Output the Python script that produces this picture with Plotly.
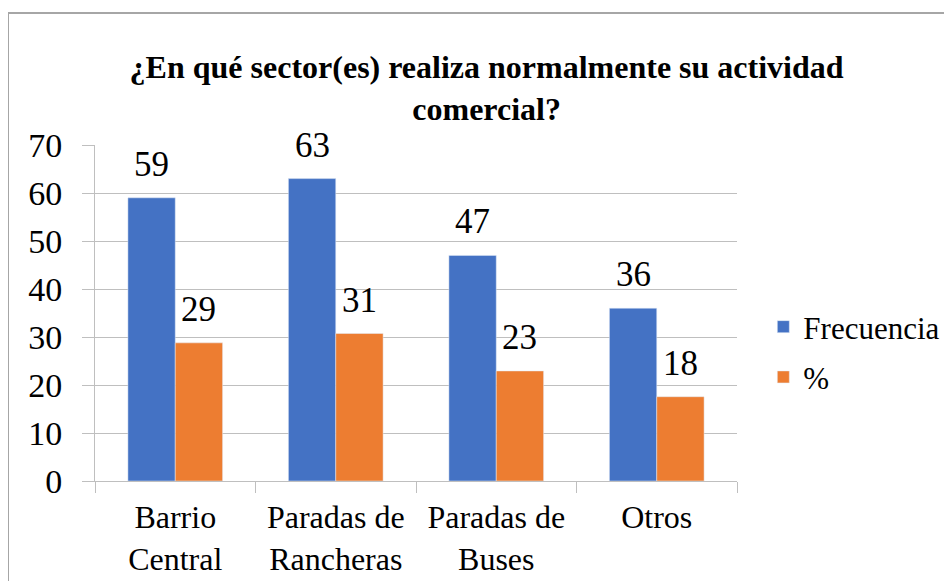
import plotly.graph_objects as go

# data
sectores = ["Barrio<br>Central", "Paradas de<br>Rancheras", "Paradas de<br>Buses", "Otros"]
frecuencia = [59, 63, 47, 36]
porcentaje = [28.78, 30.73, 22.93, 17.56]
etiquetas_frec = ["59", "63", "47", "36"]
etiquetas_pct = ["29", "31", "23", "18"]

azul = "#4472C4"
naranja = "#ED7D31"
gris = "#BFBFBF"
fuente = "Liberation Serif"
bargap = 0.41

fig = go.Figure()

fig.add_trace(go.Bar(x=sectores, y=frecuencia, name="Frecuencia",
                     marker_color=azul, legendgroup="a"))
fig.add_trace(go.Bar(x=sectores, y=porcentaje, name="%",
                     marker_color=naranja, legendgroup="b"))

# data labels above each bar (bar centre = category index -/+ a quarter of the group width)
media = (1 - bargap) / 4
for i, (f, p) in enumerate(zip(frecuencia, porcentaje)):
    for dx, val, lab in [(-media, f, etiquetas_frec[i]), (media, p, etiquetas_pct[i])]:
        fig.add_annotation(x=i + dx, y=val, text=lab, showarrow=False,
                           xanchor="center", yanchor="bottom", yshift=12,
                           font=dict(size=35, family=fuente, color="black"))

fig.update_layout(
    width=944, height=573,
    barmode="group", bargap=bargap, bargroupgap=0,
    plot_bgcolor="white", paper_bgcolor="white",
    font=dict(family=fuente, color="black"),
    margin=dict(l=87, r=215, t=137, b=100, autoexpand=False),
    title=dict(text="<b>¿En qué sector(es) realiza normalmente su actividad<br>comercial?</b>",
               x=0.507, xanchor="center", y=0.878, yanchor="middle",
               yref="container", font=dict(size=32, family=fuente, color="black")),
    legend=dict(x=1.041, xanchor="left", y=0.384, yanchor="middle",
                font=dict(size=31, family=fuente, color="black"), traceorder="grouped",
                tracegroupgap=7, bgcolor="rgba(0,0,0,0)"),
    showlegend=True,
)

fig.update_yaxes(range=[0, 70], dtick=10, showgrid=True, gridcolor=gris, gridwidth=1,
                 ticks="outside", ticklen=12, tickcolor=gris, zeroline=False,
                 showline=True, linecolor=gris, ticklabelstandoff=13, automargin=False,
                 tickfont=dict(size=34, family=fuente, color="black"))

fig.update_xaxes(showline=True, linecolor=gris, ticks="outside", ticklen=11,
                 tickcolor=gris, tickson="boundaries", ticklabelstandoff=8, automargin=False,
                 tickfont=dict(size=32, family=fuente, color="black"))

# outer chart border (only top and left edges are visible)
fig.add_shape(type="rect", xref="paper", yref="paper",
              x0=-87 / 642, x1=1.5, y0=-0.5, y1=1 + 132 / 336,
              line=dict(color="#A6A6A6", width=2), layer="below")

fig.write_html("out.html")
